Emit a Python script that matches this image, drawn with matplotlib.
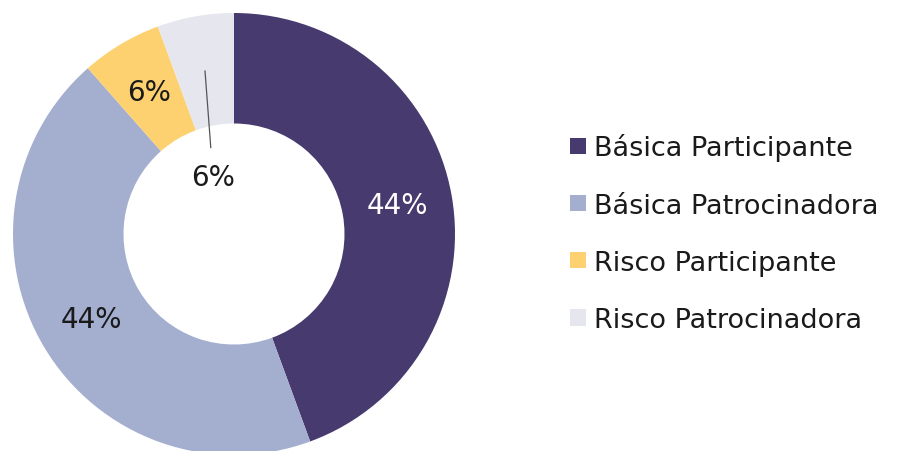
import numpy as np
import matplotlib
matplotlib.use('Agg')
import matplotlib.pyplot as plt
from matplotlib.patches import Patch

plt.rcParams['font.family'] = ['DejaVu Sans']

categorias = ['Básica Participante', 'Básica Patrocinadora', 'Risco Participante', 'Risco Patrocinadora']
valores = [44.4, 44.1, 5.9, 5.6]
rotulos = ['44%', '44%', '6%', '6%']
cores = ['#463a6e', '#a4aecf', '#fdd170', '#e5e6ee']
cor_texto = ['white', '#1a1a1a', '#1a1a1a', '#1a1a1a']

fig = plt.figure(figsize=(9.09, 4.52), dpi=100)
ax = fig.add_axes([13 / 909, -4 / 452, 442 / 909, 442 / 452])

wedges, _ = ax.pie(valores, colors=cores, startangle=90, counterclock=False,
                   radius=1, wedgeprops=dict(width=0.5, edgecolor='none'))
ax.set_aspect('auto')
ax.set_xlim(-1, 1)
ax.set_ylim(-1, 1)
ax.axis('off')

# rotulos no meio de cada fatia; o ultimo fica no furo com uma linha
for i, w in enumerate(wedges):
    ang = np.deg2rad((w.theta1 + w.theta2) / 2)
    x, y = np.cos(ang), np.sin(ang)
    if i < 3:
        ax.text(0.75 * x, 0.75 * y, rotulos[i], color=cor_texto[i], fontsize=20,
                ha='center', va='center')
    else:
        ax.annotate(rotulos[i], xy=(0.75 * x, 0.75 * y), xytext=(-0.095, 0.258),
                    fontsize=20, color=cor_texto[i], ha='center', va='center',
                    arrowprops=dict(arrowstyle='-', color='#555555', lw=0.9,
                                    shrinkA=9, shrinkB=0))

handles = [Patch(facecolor=c, edgecolor='none') for c in cores]
fig.legend(handles, categorias, loc='center left', bbox_to_anchor=(546 / 909, 0.482),
           frameon=False, fontsize=19.5, handlelength=0.57, handleheight=0.57,
           handletextpad=0.3, labelspacing=1.15, labelcolor='#1a1a1a')

fig.savefig('out.png', dpi=100)
